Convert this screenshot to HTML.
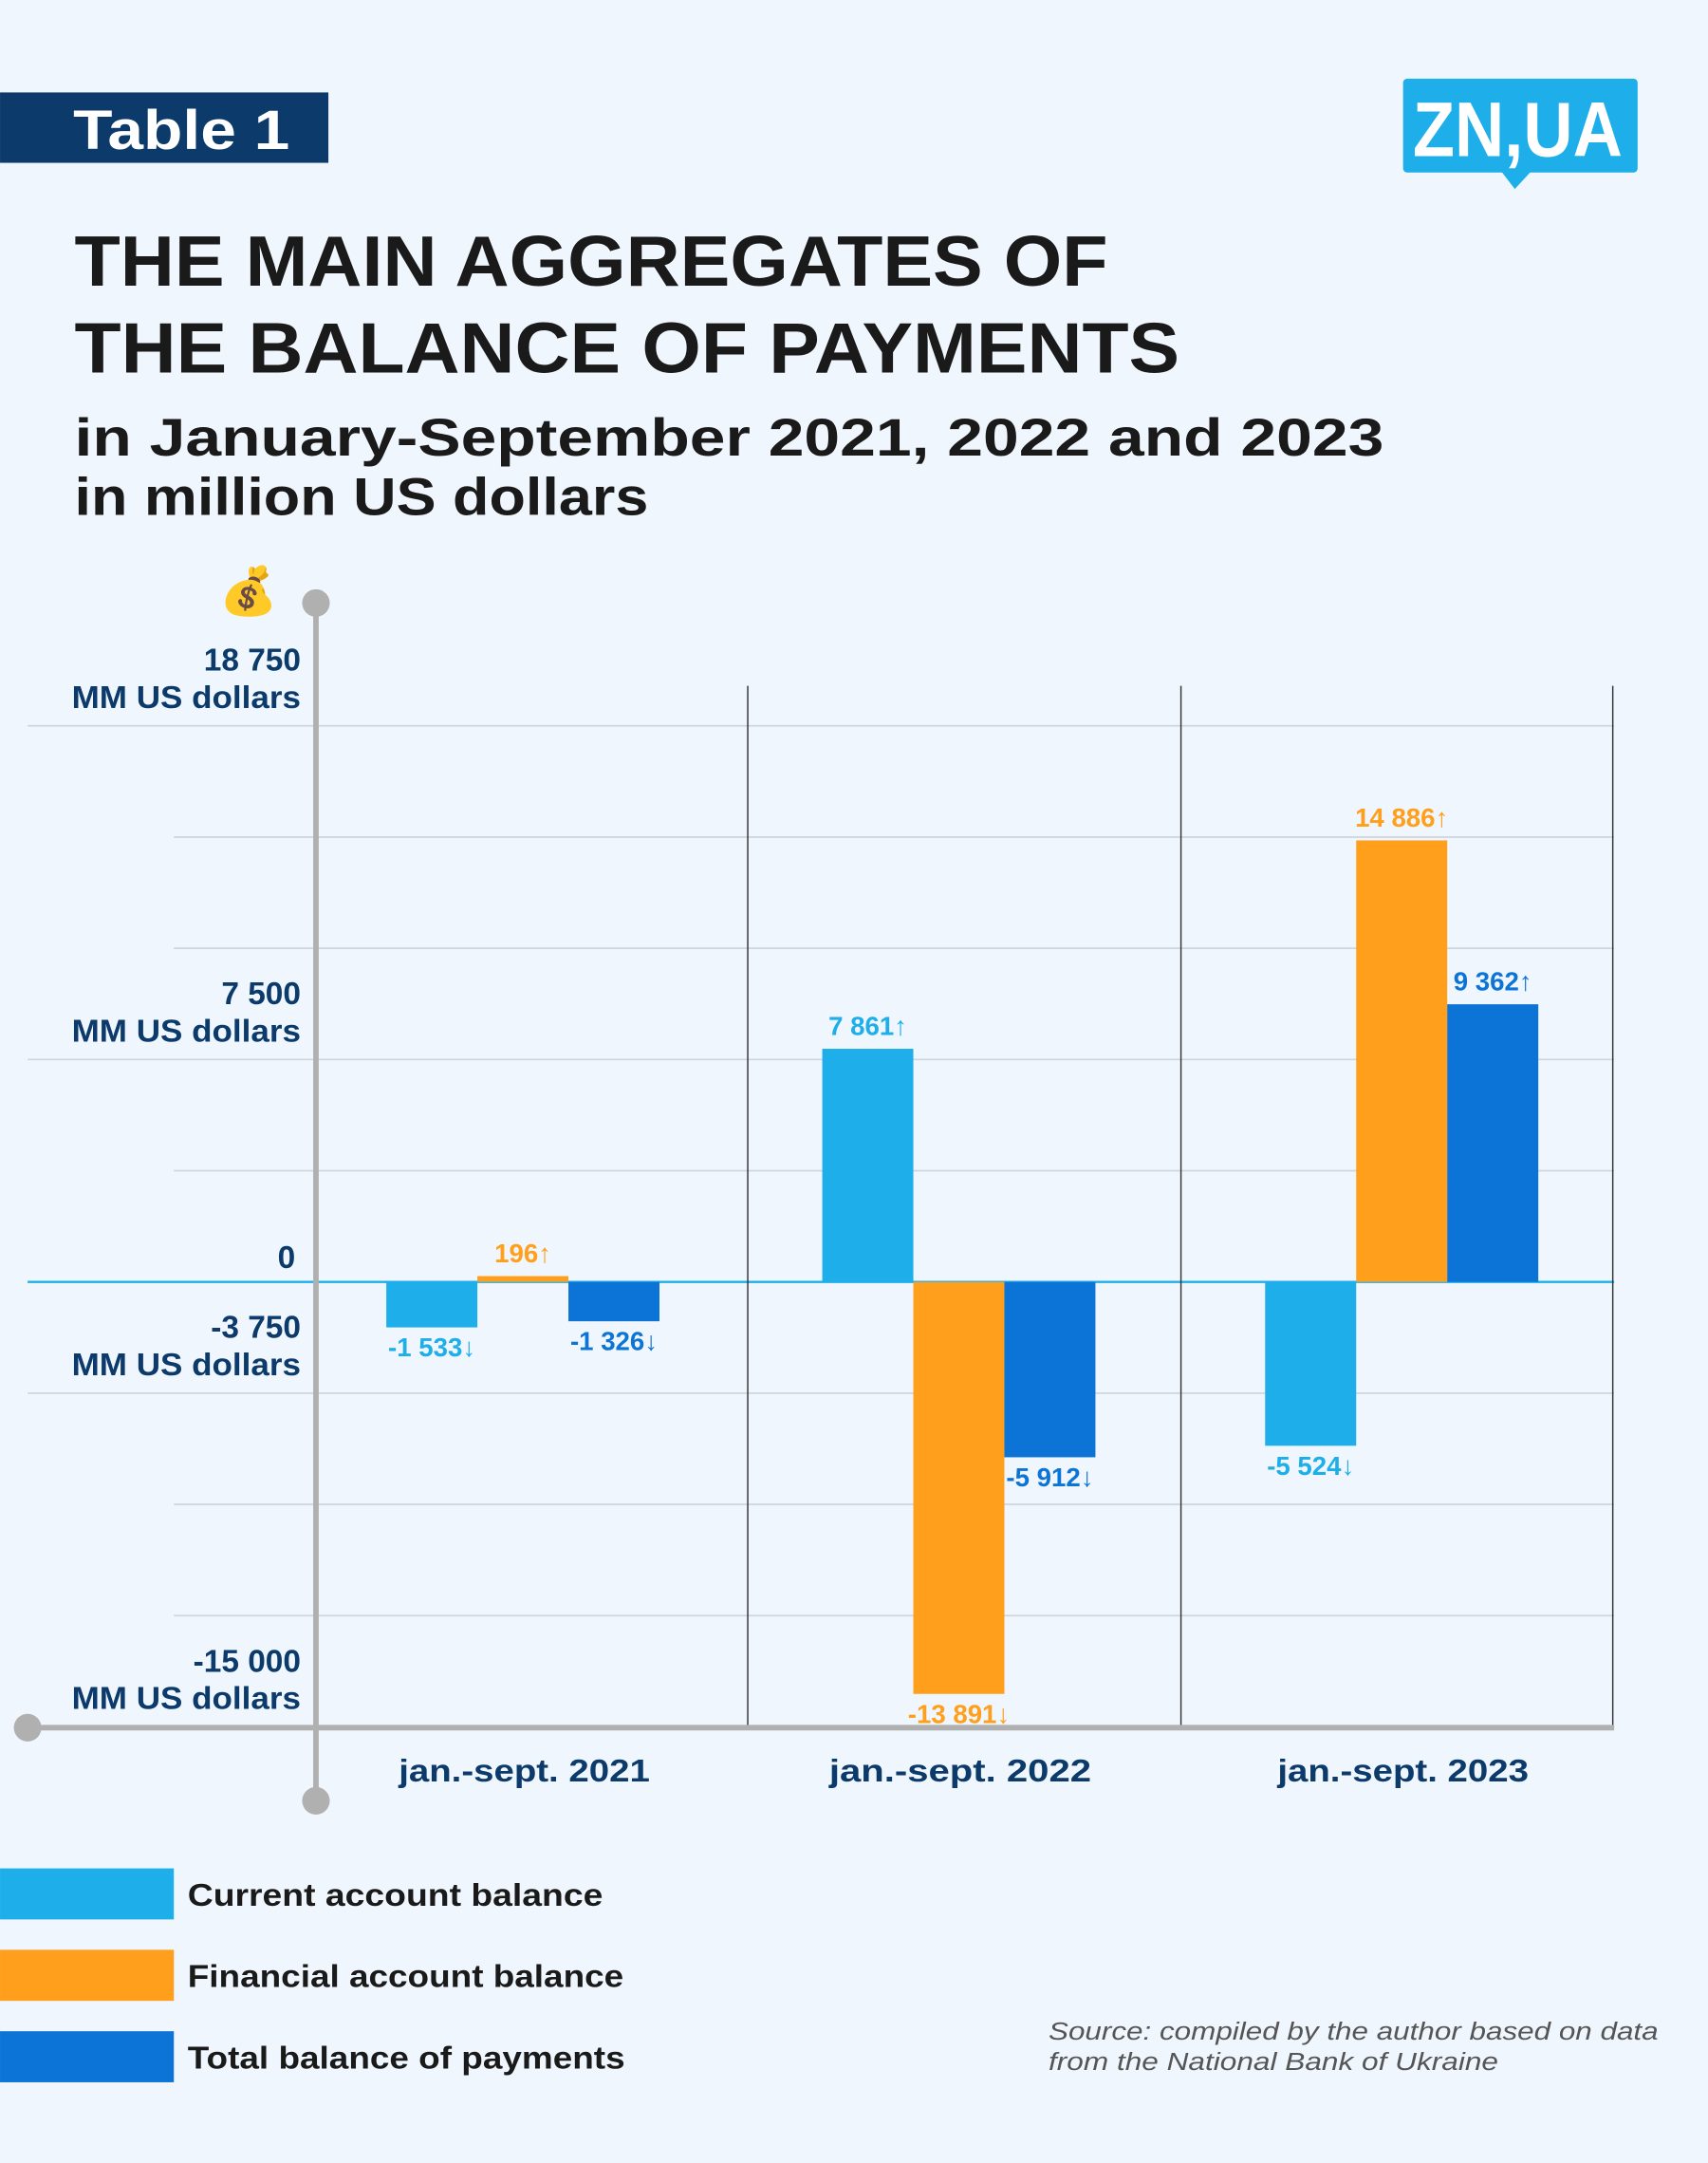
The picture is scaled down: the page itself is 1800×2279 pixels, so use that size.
<!DOCTYPE html>
<html><head><meta charset="utf-8"><style>
html,body{margin:0;padding:0;background:#eff6fd;}
svg{display:block;font-family:"Liberation Sans",sans-serif;}
</style></head><body>
<svg id="chart" width="1800" height="2279" viewBox="0 0 1238 1567.5" xmlns="http://www.w3.org/2000/svg">
<rect x="0" y="0" width="1238" height="1568" fill="#eff6fd"/>
<g>
<rect x="0" y="67" width="238" height="51" fill="#0b3a6b"/>
<text x="53" y="108" font-size="40" font-weight="bold" fill="#fff" textLength="157" lengthAdjust="spacingAndGlyphs">Table 1</text>
</g>
<g>
<rect x="1017" y="57" width="170" height="68" rx="3" fill="#1eaeea"/>
<polygon points="1088,124 1110,124 1098,137" fill="#1eaeea"/>
<text x="1024" y="113" font-size="56" font-weight="bold" fill="#fff" textLength="152" lengthAdjust="spacingAndGlyphs">ZN,UA</text>
</g>
<g fill="#1a1a1a" font-weight="bold">
<text x="54" y="207" font-size="52" textLength="749" lengthAdjust="spacingAndGlyphs">THE MAIN AGGREGATES OF</text>
<text x="54" y="270" font-size="52" textLength="801" lengthAdjust="spacingAndGlyphs">THE BALANCE OF PAYMENTS</text>
<text x="54" y="330" font-size="38" textLength="949" lengthAdjust="spacingAndGlyphs">in January-September 2021, 2022 and 2023</text>
<text x="54" y="373" font-size="38" textLength="416" lengthAdjust="spacingAndGlyphs">in million US dollars</text>
</g>
<g id="grid"></g>
<g id="bars"></g>
<g id="axes"></g>
<g id="labels"></g>
<text x="180" y="440" font-size="34" text-anchor="middle">💰</text>
<g font-size="23" font-weight="bold" fill="#1a1a1a">
<rect x="0" y="1354" width="126" height="37" fill="#1eaeea"/>
<text x="136" y="1381" textLength="301" lengthAdjust="spacingAndGlyphs">Current account balance</text>
<rect x="0" y="1413" width="126" height="37" fill="#ff9f1c"/>
<text x="136" y="1440" textLength="316" lengthAdjust="spacingAndGlyphs">Financial account balance</text>
<rect x="0" y="1472" width="126" height="37" fill="#0c74d6"/>
<text x="136" y="1499" textLength="317" lengthAdjust="spacingAndGlyphs">Total balance of payments</text>
</g>
<g font-size="18" font-style="italic" fill="#555">
<text x="760" y="1478" textLength="442" lengthAdjust="spacingAndGlyphs">Source: compiled by the author based on data</text>
<text x="760" y="1500" textLength="326" lengthAdjust="spacingAndGlyphs">from the National Bank of Ukraine</text>
</g>
</svg>
<script>
const categories = ["jan.-sept. 2021", "jan.-sept.  2022", "jan.-sept. 2023"];
const currentAccount = [-1533, 7861, -5524];
const financialAccount = [196, -13891, 14886];
const totalBalance = [-1326, -5912, 9362];
const tickValues = [18750, 15000, 11250, 7500, 3750, 0, -3750, -7500, -11250, -15000];
const labeledTicks = [18750, 7500, 0, -3750, -15000];

const NS = "http://www.w3.org/2000/svg";
const y0 = 929, pxPer = 80.6/3750;
function yScale(v){ return y0 - v*pxPer; }
const groupLeft = [280, 596, 917], barW = 66;
function xBar(g, s){ return groupLeft[g] + s*barW; }
function mk(tag, attrs, parent, txt){
  const e = document.createElementNS(NS, tag);
  for (const k in attrs) e.setAttribute(k, attrs[k]);
  if (txt !== undefined) e.textContent = txt;
  parent.appendChild(e); return e;
}
function fmt(v){
  const a = Math.abs(v).toString().replace(/\B(?=(\d{3})+(?!\d))/g, " ");
  return (v<0?"-":"") + a + (v<0?"↓":"↑");
}
const grid = document.getElementById("grid");
tickValues.forEach(v=>{
  const y = yScale(v);
  const long = labeledTicks.includes(v) || v===-3750;
  const l = mk("line", {x1: long?20:126, x2:1170, y1:y, y2:y, stroke: v===0?"#1eaeea":"#cfd5db", "stroke-width": v===0?1.6:1.2}, grid);
  
  
});
[542, 856, 1169].forEach(x=>{
  const l = mk("line", {x1:x, x2:x, y1:497, y2:1252, stroke:"#333", "stroke-width":1}, grid);
  
  
});
const axes = document.getElementById("axes");
labeledTicks.forEach(v=>{
  const y = yScale(v);
  const right = v===0 ? 214 : 218;
  if (v===0){
    const t = mk("text", {x:right, y:y-10, "font-size":23, "font-weight":"bold", fill:"#0b3a6b", "text-anchor":"end"}, axes, "0");
    
    
  } else {
    const t1 = mk("text", {x:right, y:y-40, "font-size":23, "font-weight":"bold", fill:"#0b3a6b", "text-anchor":"end"}, axes, v.toString().replace(/\B(?=(\d{3})+(?!\d))/g," "));
    
    
    const t2 = mk("text", {x:right, y:y-13, "font-size":23, "font-weight":"bold", fill:"#0b3a6b", "text-anchor":"end", textLength:166, lengthAdjust:"spacingAndGlyphs"}, axes, "MM US dollars");
    
    
  }
});
const va = mk("line", {x1:229, x2:229, y1:437, y2:1305, stroke:"#b0b0b0", "stroke-width":4}, axes);


const ha = mk("line", {x1:20, x2:1170, y1:1252, y2:1252, stroke:"#b0b0b0", "stroke-width":4}, axes);


[[229,437],[229,1305],[20,1252]].forEach(p=>{
  const c = mk("circle", {cx:p[0], cy:p[1], r:10, fill:"#b0b0b0"}, axes);
  
  
});
categories.forEach((c,i)=>{
  const t = mk("text", {x: groupLeft[i]+100, y:1291, "font-size":23, "font-weight":"bold", fill:"#0b3a6b", "text-anchor":"middle", textLength:i===1?190:182, lengthAdjust:"spacingAndGlyphs"}, axes, c);
  
  
});
const bars = document.getElementById("bars");
const labels = document.getElementById("labels");
const series = [[currentAccount,"#1eaeea","current"],[financialAccount,"#ff9f1c","financial"],[totalBalance,"#0c74d6","total"]];
series.forEach((s,si)=>{
  s[0].forEach((v,g)=>{
    const x = xBar(g, si), ys = yScale(v);
    const r = mk("rect", {x:x, y:Math.min(ys,y0), width:barW, height:Math.abs(ys-y0), fill:s[1]}, bars);
    
    
    const ly = v>=0 ? ys-10 : ys+21;
    const t = mk("text", {x:x+barW/2, y:ly, "font-size":19, "font-weight":"bold", fill:s[1], "text-anchor":"middle"}, labels, fmt(v));
    
    
  });
});
</script>
</body></html>
